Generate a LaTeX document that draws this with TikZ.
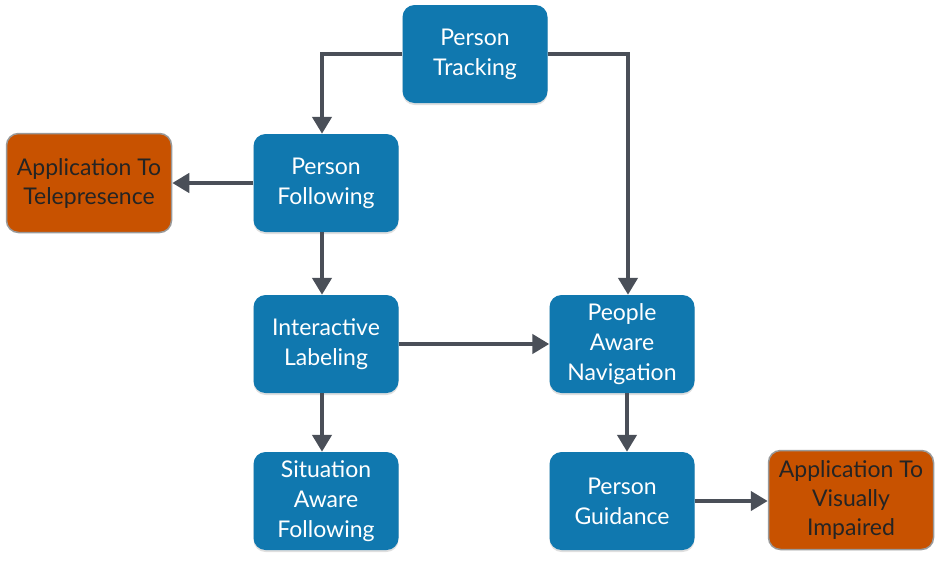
\documentclass[tikz,border=0pt]{standalone}
\usepackage{fontspec}
\setmainfont{Lato}
\usetikzlibrary{arrows.meta,shadows}
\definecolor{boxblue}{RGB}{16,120,175}
\definecolor{boxorange}{RGB}{200,82,0}
\definecolor{arrowgray}{RGB}{74,79,88}
\definecolor{textdark}{RGB}{36,36,36}
\tikzset{
  task/.style={fill=boxblue,rounded corners=12pt,minimum width=145pt,minimum height=98pt,
    text=white,align=center,font=\fontsize{23}{30}\selectfont,
    drop shadow={opacity=0.25,shadow xshift=0pt,shadow yshift=-2pt}},
  app/.style={fill=boxorange,draw=gray!80,line width=1.5pt,rounded corners=12pt,
    minimum width=165pt,minimum height=99pt,text=textdark,align=center,
    font=\fontsize{23}{29}\selectfont},
  link/.style={arrowgray,line width=4.5pt,-{Triangle[width=19pt,length=17pt]}}
}
\begin{document}
\begin{tikzpicture}[x=1pt,y=-1pt]
\useasboundingbox (0,0) rectangle (941,562);
\node [task] (track) at (475,54) {Person\\Tracking};
\node [task] (follow) at (326,183) {Person\\Following};
\node [app] (tele) at (89,183) {Application To\\Telepresence};
\node [task] (label) at (326,344) {Interactive\\Labeling};
\node [task] (situ) at (326,501) {Situation\\Aware\\Following};
\node [task] (nav) at (622,344) {People\\Aware\\Navigation};
\node [task] (guide) at (622,501) {Person\\Guidance};
\node [app] (blind) at (851,500) {Application To\\Visually\\Impaired};
\draw [link] (track.west) -| ([xshift=-4pt]follow.north);
\draw [link] (track.east) -| ([xshift=6pt]nav.north);
\draw [link] (follow.west) -- (tele.east);
\draw [link] ([xshift=-4pt]follow.south) -- ([xshift=-4pt]label.north);
\draw [link] (label.east) -- (nav.west);
\draw [link] ([xshift=-4pt]label.south) -- ([xshift=-4pt]situ.north);
\draw [link] ([xshift=5pt]nav.south) -- ([xshift=5pt]guide.north);
\draw [link] (guide.east) -- (blind.west|-guide.east);
\end{tikzpicture}
\end{document}
